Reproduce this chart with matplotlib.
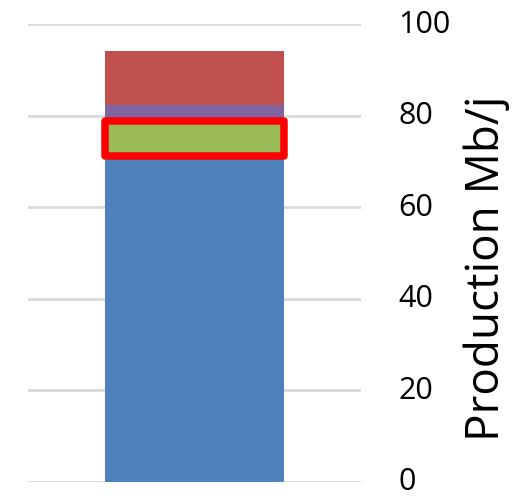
import matplotlib
matplotlib.use("Agg")
import matplotlib.pyplot as plt
from matplotlib.transforms import ScaledTranslation

# production breakdown, Mb/j (single stacked column)
segments = ["base", "highlight", "mid", "top"]
values = [71.1, 7.8, 3.5, 11.8]
colors = ["#4F81BD", "#9BBB59", "#8064A2", "#C0504D"]
yticks = [0, 20, 40, 60, 80, 100]

plt.rcParams['font.family'] = ['Open Sans', 'DejaVu Sans']

fig = plt.figure(figsize=(5.28, 4.98), dpi=100)
ax = fig.add_axes([28/528, 16.3/498, 333/528, 457.4/498])

bottom = 0
bars = []
for name, v, c in zip(segments, values, colors):
    b = ax.bar(0, v, width=0.5375, bottom=bottom, color=c, zorder=2)
    bars.append(b[0])
    bottom += v

# outline the highlighted segment in red
hl = bars[1]
hl.set_edgecolor("#FF0000")
hl.set_linewidth(5.4)
hl.set_joinstyle("round")
hl.set_zorder(3)

ax.set_xlim(-0.5, 0.5)
ax.set_ylim(0, 100)
ax.set_yticks(yticks)
ax.set_xticks([])
ax.yaxis.tick_right()
ax.tick_params(axis="y", length=0, pad=27, labelsize=22)
ax.grid(axis="y", color="#D9D9D9", linewidth=2.0, zorder=0)
ax.set_axisbelow(True)
for s in ax.spines.values():
    s.set_visible(False)

# nudge the tick labels up a little
shift = ScaledTranslation(0, 3/100, fig.dpi_scale_trans)
for lbl in ax.get_yticklabels():
    lbl.set_transform(lbl.get_transform() + shift)

fig.text(464/528, 1 - 268/498, "Production Mb/j", rotation=90,
         ha="left", va="center", fontsize=33)

fig.savefig("out.png", dpi=100)
